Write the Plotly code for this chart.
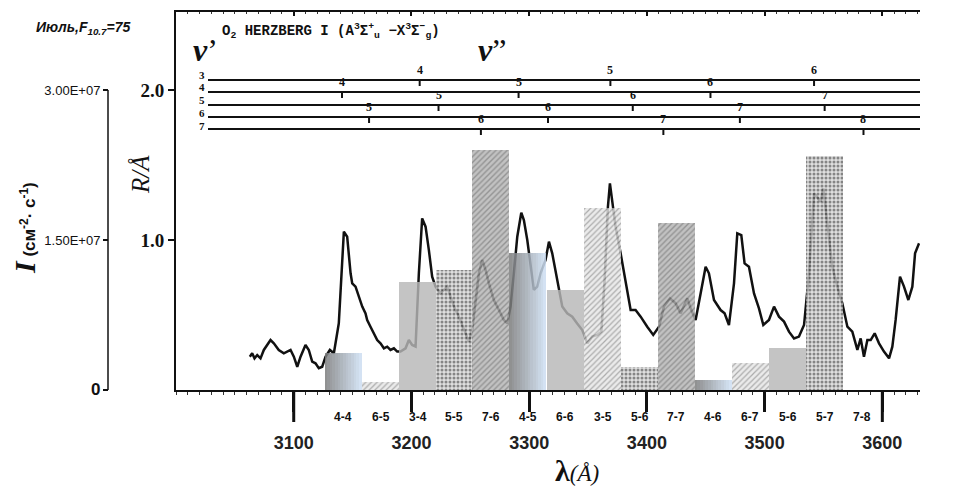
import plotly.graph_objects as go

# ---------------- data ----------------
band_labels = ["4-4", "6-5", "3-4", "5-5", "7-6", "4-5", "6-6", "3-5", "5-6", "7-7",
               "4-6", "6-7", "5-6", "5-7", "7-8"]
band_centers = [3141.9, 3173.8, 3205.2, 3236.2, 3267.2, 3298.7, 3330.5, 3362.4, 3393.8,
                3424.8, 3456.3, 3487.7, 3519.6, 3551.0, 3582.4]
band_intensity = [3.7e6, 0.8e6, 1.08e7, 1.2e7, 2.4e7, 1.37e7, 1.0e7, 1.82e7, 2.3e6,
                  1.67e7, 1.0e6, 2.7e6, 4.2e6, 2.34e7, 0.0]
band_style = ["grad", "hatch_light", "solid", "speckle", "hatch_dark", "grad", "solid",
              "hatch_light", "speckle", "hatch_dark", "grad", "hatch_light", "solid",
              "speckle", None]
band_width = 31.4

spectrum_wavelength = [
    3062.7, 3064.7, 3066.7, 3069.0, 3071.8, 3074.6, 3080.3, 3083.1, 3087.3, 3091.6,
    3097.3, 3100.1, 3103.0, 3105.8, 3110.0, 3112.8, 3115.7, 3118.5, 3121.3, 3124.2,
    3127.0, 3130.7, 3134.1, 3138.3,
    3142.6, 3145.4, 3148.3, 3149.7, 3152.5, 3155.3, 3158.2, 3161.0, 3162.4, 3165.2,
    3168.1, 3170.9, 3173.7, 3176.6, 3179.4, 3182.2, 3185.1, 3187.9, 3190.7, 3195.0,
    3197.8, 3200.6, 3203.5, 3206.3, 3209.1, 3212.0, 3214.8, 3217.6, 3220.5, 3224.7,
    3227.6, 3230.4, 3233.2, 3236.1, 3240.3, 3244.5, 3248.8, 3251.6, 3254.5, 3257.3,
    3260.1, 3263.0, 3265.8, 3270.0, 3274.3, 3278.5, 3281.4, 3284.2, 3287.0, 3289.9,
    3293.3, 3295.5, 3298.4, 3301.2, 3304.0, 3306.9, 3309.7, 3313.9, 3316.8, 3319.6,
    3323.8, 3328.1, 3332.3, 3336.6, 3340.8, 3345.1,
    3349.4, 3353.6, 3357.9, 3361.3, 3364.1, 3366.9, 3368.6, 3370.6, 3373.4, 3377.7,
    3381.9, 3386.2, 3390.4, 3394.7, 3400.3, 3405.4, 3410.3, 3414.5, 3419.6, 3424.4,
    3428.7, 3434.3, 3437.7, 3441.4, 3446.2, 3449.9, 3452.7, 3457.0, 3462.6, 3466.0,
    3469.7, 3474.0, 3476.8, 3480.2, 3483.0, 3486.7, 3491.0, 3495.2, 3498.9, 3503.7,
    3508.0, 3512.2, 3516.5, 3520.7, 3525.0, 3529.2, 3533.5, 3537.7, 3542.0, 3545.3,
    3547.6, 3549.9, 3553.3, 3557.5, 3561.8, 3566.0, 3570.3, 3574.5, 3578.8, 3581.6,
    3584.4, 3587.3, 3590.1, 3593.5, 3597.2, 3601.4, 3605.7, 3608.5, 3611.3, 3615.0,
    3618.4, 3622.1, 3625.5, 3627.8, 3631.2]
spectrum_r = [
    0.222, 0.245, 0.211, 0.233, 0.211, 0.267, 0.333, 0.311, 0.267, 0.245,
    0.267, 0.222, 0.155, 0.222, 0.300, 0.267, 0.189, 0.178, 0.145, 0.155,
    0.222, 0.267, 0.245, 0.445,
    1.056, 1.022, 0.778, 0.711, 0.689, 0.622, 0.556, 0.511, 0.467, 0.422,
    0.378, 0.333, 0.311, 0.278, 0.289, 0.267, 0.278, 0.256, 0.256, 0.278,
    0.333, 0.300, 0.289, 0.778, 1.144, 1.089, 0.933, 0.756, 0.689, 0.644,
    0.667, 0.689, 0.622, 0.556, 0.489, 0.400, 0.322, 0.400, 0.600, 0.778,
    0.867, 0.800, 0.711, 0.600, 0.533, 0.467, 0.444, 0.556, 0.778, 1.022,
    1.182, 1.133, 1.000, 0.822, 0.667, 0.689, 0.778, 0.867, 0.989, 0.911,
    0.733, 0.556, 0.511, 0.489, 0.444, 0.400,
    0.311, 0.356, 0.367, 0.389, 0.733, 1.222, 1.378, 1.244, 1.089, 0.911,
    0.733, 0.533, 0.533, 0.489, 0.422, 0.367, 0.422, 0.556, 0.611, 0.578,
    0.511, 0.611, 0.533, 0.467, 0.667, 0.822, 0.778, 0.600, 0.533, 0.511,
    0.433, 0.711, 1.044, 1.033, 0.844, 0.822, 0.644, 0.544, 0.433, 0.467,
    0.556, 0.489, 0.456, 0.389, 0.344, 0.356, 0.433, 0.778, 1.311, 1.278,
    1.256, 1.344, 1.111, 0.822, 0.689, 0.578, 0.422, 0.389, 0.267, 0.344,
    0.222, 0.333, 0.333, 0.378, 0.311, 0.256, 0.211, 0.289, 0.467, 0.756,
    0.689, 0.600, 0.689, 0.911, 0.978]

vprime_levels = [3, 4, 5, 6, 7]
prog_wavelength = [[3207, 3369, 3542], [3141, 3291, 3454], [3223, 3388, 3551],
                   [3164, 3316, 3479], [3259, 3414, 3584]]
prog_vdouble = [[4, 5, 6], [4, 5, 6], [5, 6, 7], [5, 6, 7], [6, 7, 8]]

x_ticks = [3100, 3200, 3300, 3400, 3500, 3600]
r_ticks = [1.0, 2.0]
i_ticks = [0, 1.5e7, 3.0e7]
i_ticktext = ["<span style='font-size:17px'><b>0</b></span>", "1.50E+07", "3.00E+07"]

# ---------------- layout geometry ----------------
# the page body has an 8px margin, so the figure is 8px smaller and all page
# positions are offset by 8px
OFF = 8
W, H = 960 - OFF, 489 - OFF
ML, MR, MT, MB = 100 - OFF, 40, 12 - OFF, 99
PW = W - ML - MR
PH = H - MT - MB
def px_x(px):
    return (px - OFF - ML) / PW
def px_y(py):
    return (H - MB - (py - OFF)) / PH

R_TOP = 2.52
I_PER_R = 1.5e7

fig = go.Figure()

# spectrum curve (R/A axis)
fig.add_trace(go.Scatter(x=spectrum_wavelength, y=spectrum_r, mode="lines",
                         line=dict(color="#111111", width=2.5),
                         xaxis="x", yaxis="y", showlegend=False, hoverinfo="skip"))
# invisible trace to show the top axis
fig.add_trace(go.Scatter(x=[3000, 3632], y=[0, 0], mode="lines", line=dict(width=0),
                         xaxis="x2", yaxis="y", showlegend=False, hoverinfo="skip"))

def hex2rgb(h):
    h = h.lstrip("#")
    return [int(h[i:i + 2], 16) for i in (0, 2, 4)]

def lerp(c1, c2, t):
    a, b = hex2rgb(c1), hex2rgb(c2)
    return "rgb(%d,%d,%d)" % tuple(round(a[i] + (b[i] - a[i]) * t) for i in range(3))

styles = {
    "solid": dict(color="#b7b7b7"),
    "hatch_light": dict(color="#e2e2e2", pattern=dict(shape="/", fgcolor="#9a9a9a", bgcolor="#e6e6e6",
                                                      size=4, solidity=0.3, fillmode="replace")),
    "hatch_dark": dict(color="#adadad", pattern=dict(shape="/", fgcolor="#7c7c7c", bgcolor="#b4b4b4",
                                                     size=4, solidity=0.35, fillmode="replace")),
    "speckle": dict(color="#cccccc", pattern=dict(shape=".", fgcolor="#6a6a6a", bgcolor="#d8d8d8",
                                                  size=4, solidity=0.45, fillmode="replace")),
}

for lab, c, val, st in zip(band_labels, band_centers, band_intensity, band_style):
    if st is None:
        continue
    if st == "grad":
        n = 14
        for i in range(n):
            t = (i + 0.5) / n
            fig.add_trace(go.Bar(x=[c - band_width / 2 + (i + 0.5) * band_width / n], y=[val],
                                 width=band_width / n,
                                 marker=dict(color=lerp("#7a7a7a", "#cfe1f5", t), line_width=0),
                                 opacity=0.85, xaxis="x", yaxis="y2", showlegend=False,
                                 hoverinfo="skip"))
    else:
        m = dict(styles[st])
        m["line"] = dict(width=0)
        fig.add_trace(go.Bar(x=[c], y=[val], width=band_width, marker=m, opacity=0.82,
                             xaxis="x", yaxis="y2", showlegend=False, name=lab))

shapes = []
annotations = []

# I axis line (only from 0 to the top tick)
shapes.append(dict(type="line", xref="paper", yref="y2", x0=px_x(108), x1=px_x(108),
                   y0=0, y1=i_ticks[-1], line=dict(color="#111111", width=1.5)))
# longer end ticks on the wavelength axis
for xv in (x_ticks[0], x_ticks[-1]):
    shapes.append(dict(type="line", xref="x", yref="paper", x0=xv, x1=xv, ysizemode="pixel",
                       yanchor=0, y0=0, y1=-32, line=dict(color="#111111", width=3)))

# band table (v' rows)
row_line_py = [80, 92, 105, 117, 129]
row_label_py = [75, 87, 100, 113, 126]
for k, v in enumerate(vprime_levels):
    ly = px_y(row_line_py[k])
    shapes.append(dict(type="line", xref="paper", yref="paper", x0=px_x(208), x1=px_x(920),
                       y0=ly, y1=ly, line=dict(color="#111111", width=1.8)))
    annotations.append(dict(xref="paper", yref="paper", x=px_x(202), y=px_y(row_label_py[k]),
                            text="<b>%d</b>" % v, showarrow=False, xanchor="center", yanchor="middle",
                            font=dict(family="Liberation Serif", size=11, color="#111111")))
    for wl, vd in zip(prog_wavelength[k], prog_vdouble[k]):
        shapes.append(dict(type="line", xref="x", yref="paper", x0=wl, x1=wl,
                           ysizemode="pixel", yanchor=ly, y0=0, y1=-6,
                           line=dict(color="#111111", width=2)))
        annotations.append(dict(xref="x", yref="paper", x=wl, y=ly, yshift=1,
                                text="<b>%d</b>" % vd, showarrow=False, xanchor="center",
                                yanchor="bottom",
                                font=dict(family="Liberation Serif", size=12, color="#111111")))

# band labels under axis
for lab, c in zip(band_labels, band_centers):
    annotations.append(dict(xref="x", yref="paper", x=c, y=px_y(417), text="<b>%s</b>" % lab,
                            showarrow=False, xanchor="center", yanchor="middle",
                            font=dict(family="Liberation Sans", size=12, color="#111111")))

annotations += [
    dict(xref="paper", yref="paper", x=px_x(34), y=px_y(28), xanchor="left", yanchor="middle",
         text="<b><i>Июль,F<sub>10.7</sub>=75</i></b>", showarrow=False,
         font=dict(family="Liberation Sans", size=14, color="#111111")),
    dict(xref="paper", yref="paper", x=px_x(220), y=px_y(31), xanchor="left", yanchor="middle",
         text="<b>O<sub>2</sub> HERZBERG I (A<sup>3</sup>Σ<sup>+</sup><sub>u</sub> −X<sup>3</sup>Σ<sup>−</sup><sub>g</sub>)</b>",
         showarrow=False, font=dict(family="Liberation Mono", size=14, color="#111111")),
    dict(xref="paper", yref="paper", x=px_x(191), y=px_y(50), xanchor="left", yanchor="middle",
         text="<b><i>v</i></b>’", showarrow=False,
         font=dict(family="Liberation Serif", size=32, color="#111111")),
    dict(xref="paper", yref="paper", x=px_x(476), y=px_y(50), xanchor="left", yanchor="middle",
         text="<b><i>v</i></b>”", showarrow=False,
         font=dict(family="Liberation Serif", size=32, color="#111111")),
    dict(xref="paper", yref="paper", x=px_x(141), y=px_y(175), xanchor="center", yanchor="middle",
         text="<i>R/Å</i>", textangle=-90, showarrow=False,
         font=dict(family="Liberation Serif", size=25, color="#111111")),
    dict(xref="paper", yref="paper", x=px_x(24), y=px_y(228), xanchor="center", yanchor="middle",
         text="<b><i><span style='font-family:Liberation Serif;font-size:30px'>I</span></i></b>"
              "<b> (см<sup>-2</sup>· с<sup>-1</sup>)</b>",
         textangle=-90, showarrow=False,
         font=dict(family="Liberation Sans", size=17, color="#111111")),
    dict(xref="paper", yref="paper", x=px_x(577), y=px_y(470), xanchor="center", yanchor="middle",
         text="<b><span style='font-size:30px'>λ</span></b><i>(Å)</i>", showarrow=False,
         font=dict(family="Liberation Serif", size=23, color="#111111")),
]

fig.update_layout(
    width=W, height=H, margin=dict(l=ML, r=MR, t=MT, b=MB),
    plot_bgcolor="white", paper_bgcolor="white", barmode="overlay", bargap=0,
    showlegend=False, shapes=shapes, annotations=annotations,
    xaxis=dict(domain=[px_x(176), 1], range=[3000, 3632], tickmode="array", tickvals=x_ticks,
               ticks="outside", ticklen=20, tickwidth=3, tickcolor="#111111",
               showline=True, linewidth=2, linecolor="#111111", showgrid=False, zeroline=False,
               tickfont=dict(family="Liberation Sans", size=18, color="#222222", weight="bold"),
               ticklabelstandoff=15, anchor="y",
               minor=dict(tick0=3000, dtick=10, ticks="outside", ticklen=3, tickwidth=1,
                          tickcolor="#333333")),
    xaxis2=dict(overlaying="x", side="top", anchor="y", range=[3000, 3632], tickmode="array",
                tickvals=x_ticks, ticks="inside", ticklen=4, tickwidth=2, tickcolor="#111111",
                showline=True, linewidth=2, linecolor="#111111", showticklabels=False,
                showgrid=False, zeroline=False,
                minor=dict(tick0=3000, dtick=10, ticks="inside", ticklen=2, tickwidth=1,
                           tickcolor="#333333")),
    yaxis=dict(domain=[0, 1], range=[0, R_TOP], tickmode="array", tickvals=r_ticks,
               ticktext=["1.0", "2.0"], ticks="outside", ticklen=6, tickwidth=2,
               tickcolor="#111111", showline=True, linewidth=2, linecolor="#111111",
               showgrid=False, zeroline=False, anchor="x",
               tickfont=dict(family="Liberation Serif", size=19, color="#111111", weight="bold")),
    yaxis2=dict(overlaying="y", range=[0, R_TOP * I_PER_R], anchor="free", position=px_x(108),
                side="left", tickmode="array", tickvals=i_ticks, ticktext=i_ticktext,
                ticks="outside", ticklen=5, tickwidth=1.5, tickcolor="#111111", showline=False,
                showgrid=False, zeroline=False,
                tickfont=dict(family="Liberation Sans", size=13, color="#111111")),
)

fig.write_html("out.html")
